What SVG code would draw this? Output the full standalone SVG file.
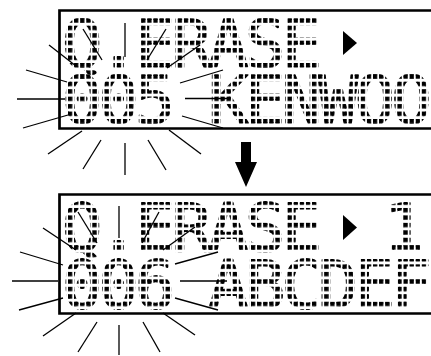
<svg xmlns="http://www.w3.org/2000/svg" width="431" height="356" viewBox="0 0 431 356">
<style>
.frame{fill:none;stroke:#000;stroke-width:2.7}
.ray{stroke:#000;stroke-width:1.3;fill:none;stroke-linecap:butt}
.lcd{font-family:"DejaVu Sans Mono","Liberation Mono",monospace;font-size:66px;text-anchor:middle;stroke-width:2.2;stroke-linejoin:round}
.solid{fill:#000}
</style>
<defs>
<pattern id="d1" patternUnits="userSpaceOnUse" x="68" y="18.3" width="6.1" height="7.45"><rect width="4.2" height="4.4" fill="#000"/></pattern>
<pattern id="d2" patternUnits="userSpaceOnUse" x="68" y="74.3" width="6.1" height="7.45"><rect width="4.2" height="4.4" fill="#000"/></pattern>
<pattern id="d3" patternUnits="userSpaceOnUse" x="68" y="200.5" width="6.1" height="7.45"><rect width="4.2" height="4.4" fill="#000"/></pattern>
<pattern id="d4" patternUnits="userSpaceOnUse" x="68" y="257" width="6.1" height="7.45"><rect width="4.2" height="4.4" fill="#000"/></pattern>
</defs>
<rect width="431" height="356" fill="#fff"/>

<g id="display-before">
<path class="frame" d="M433 10.5H59.5V128.5H433"/>
<text class="lcd"><tspan fill="url(#d1)" stroke="url(#d1)" x="82 118.6 155.2 191.8 228.4 265 301.6" y="66.5">Q.ERASE</tspan><tspan fill="url(#d2)" stroke="url(#d2)" x="82 118.6 155.2 191.8 228.4 265 301.6 338.2 374.8 411.4" y="123">005 KENWOO</tspan></text>
<polygon class="solid" points="343,31 357,43 343,55"/>
</g>

<g id="display-after">
<path class="frame" d="M433 194.5H59.5V313.5H433"/>
<text class="lcd"><tspan fill="url(#d3)" stroke="url(#d3)" x="82 118.6 155.2 191.8 228.4 265 301.6" y="250.5">Q.ERASE</tspan><tspan fill="url(#d3)" stroke="url(#d3)" x="404" y="250.5">1</tspan><tspan fill="url(#d4)" stroke="url(#d4)" x="82 118.6 155.2 191.8 228.4 265 301.6 338.2 374.8 411.4" y="307.5">006 ABCDEF</tspan></text>
<polygon class="solid" points="343,215 357,227.5 343,240"/>
</g>

<g id="arrow">
<polygon class="solid" points="241,142 251,142 251,162 257,162 246,187 235,162 241,162"/>
</g>

<g id="connectors">
<g id="rays-before">
<line class="ray" x1="49" y1="45" x2="76" y2="66"/>
<line class="ray" x1="26" y1="70" x2="67" y2="82"/>
<line class="ray" x1="17" y1="99" x2="65" y2="99"/>
<line class="ray" x1="23" y1="128" x2="68" y2="115"/>
<line class="ray" x1="48" y1="154" x2="82" y2="131"/>
<line class="ray" x1="83" y1="169" x2="101" y2="140"/>
<line class="ray" x1="125" y1="175" x2="125" y2="143"/>
<line class="ray" x1="166" y1="170" x2="148" y2="140"/>
<line class="ray" x1="201" y1="154" x2="169" y2="130"/>
<line class="ray" x1="223" y1="128" x2="182" y2="116"/>
<line class="ray" x1="185" y1="98.5" x2="228" y2="98.5"/>
<line class="ray" x1="180" y1="83" x2="223" y2="70"/>
<line class="ray" x1="83" y1="29" x2="102" y2="60"/>
<line class="ray" x1="125" y1="23" x2="125" y2="57"/>
<line class="ray" x1="166" y1="29" x2="147" y2="60"/>
<line class="ray" x1="200" y1="45" x2="167" y2="68"/>
</g>
<g id="rays-after">
<line class="ray" x1="43" y1="228" x2="76" y2="250"/>
<line class="ray" x1="20" y1="252" x2="63" y2="265"/>
<line class="ray" x1="12" y1="281" x2="58" y2="281"/>
<line class="ray" x1="19" y1="310" x2="63" y2="298"/>
<line class="ray" x1="43" y1="336" x2="76" y2="313"/>
<line class="ray" x1="78" y1="352" x2="97" y2="322"/>
<line class="ray" x1="119" y1="355" x2="119" y2="325"/>
<line class="ray" x1="160" y1="352" x2="143" y2="322"/>
<line class="ray" x1="195" y1="335" x2="163" y2="313"/>
<line class="ray" x1="218" y1="310" x2="175" y2="298"/>
<line class="ray" x1="180" y1="281" x2="227" y2="281"/>
<line class="ray" x1="175" y1="264" x2="218" y2="252"/>
<line class="ray" x1="78" y1="212" x2="97" y2="243"/>
<line class="ray" x1="119" y1="206" x2="119" y2="238"/>
<line class="ray" x1="159" y1="212" x2="142" y2="243"/>
<line class="ray" x1="195" y1="227" x2="163" y2="250"/>
</g>
</g>
</svg>
